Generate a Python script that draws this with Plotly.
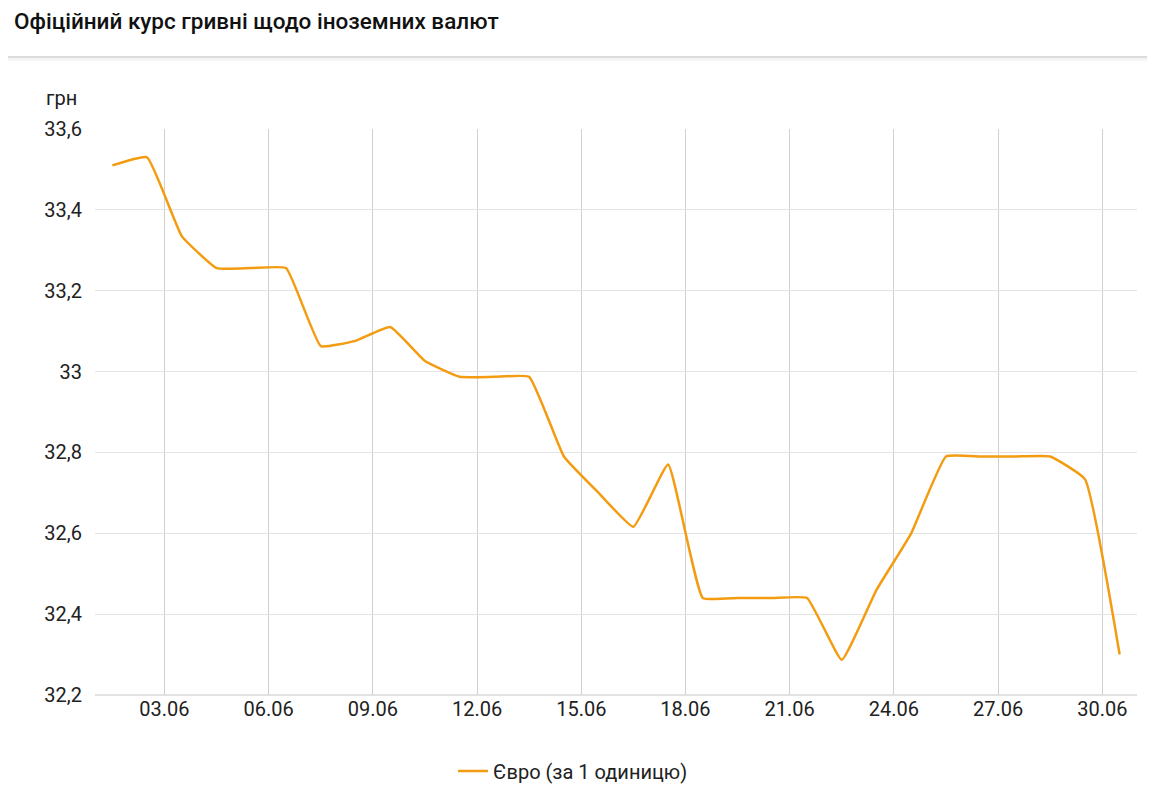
import plotly.graph_objects as go

dates = [f"2021-06-{d:02d} 12:00" for d in range(1, 31)]
euro = [33.51, 33.53, 33.335, 33.256, 33.256, 33.256, 33.063, 33.076, 33.11, 33.026,
        32.987, 32.987, 32.987, 32.79, 32.70, 32.616, 32.77, 32.44, 32.44, 32.44,
        32.44, 32.287, 32.46, 32.60, 32.79, 32.79, 32.79, 32.79, 32.734, 32.30]
series_name = "Євро (за 1 одиницю)"
title_text = "Офіційний курс гривні щодо іноземних валют"
y_ticks = [32.2, 32.4, 32.6, 32.8, 33.0, 33.2, 33.4, 33.6]
y_labels = ["32,2", "32,4", "32,6", "32,8", "33", "33,2", "33,4", "33,6"]
x_ticks = [f"2021-06-{d:02d}" for d in range(3, 31, 3)]
x_labels = [f"{d:02d}.06" for d in range(3, 31, 3)]

FONT = "Roboto, Arial, sans-serif"
TXT = "#212121"
FS = 20

W, H = 1155, 789
OFF = 8  # page body margin
ml, mr, mt, mb = 95 - OFF, 18 + OFF, 129 - OFF, 94 + OFF
pw, ph = W - ml - mr, H - mt - mb


def py(y):  # page pixel y -> paper fraction
    return (H - mb - (y - OFF)) / ph


def px(x):
    return (x - OFF - ml) / pw


fig = go.Figure()
fig.add_trace(go.Scatter(
    x=dates, y=euro, mode="lines", name=series_name,
    line=dict(color="#f39c12", width=2.5, shape="spline", smoothing=0.35),
))

fig.update_layout(
    width=W, height=H,
    margin=dict(l=ml, r=mr, t=mt, b=mb),
    paper_bgcolor="white", plot_bgcolor="white",
    font=dict(family=FONT, size=FS, color=TXT),
    title=dict(text=title_text, x=(14 - OFF) / W, xanchor="left", y=1 - (21 - OFF) / H, yanchor="middle",
               font=dict(family=FONT, size=22.5, color="#111111", weight=500)),
    showlegend=True,
    legend=dict(orientation="h", xref="container", yref="container", x=(573 - OFF) / W, xanchor="center",
                y=1 - (771 - OFF) / H, yanchor="middle", font=dict(size=FS, color=TXT)),
    xaxis=dict(type="date", range=["2021-06-01", "2021-07-01"], tickvals=x_ticks, ticktext=x_labels,
               showgrid=True, gridcolor="#d0d0d0", gridwidth=1, zeroline=False,
               showline=False, ticks="", tickfont=dict(size=FS, color=TXT)),
    yaxis=dict(range=[32.2, 33.6], tickvals=y_ticks, ticktext=y_labels,
               showgrid=True, gridcolor="#e3e3e3", gridwidth=1, zeroline=False,
               showline=False, ticks="", ticklabelstandoff=12, tickfont=dict(size=FS, color=TXT)),
    hovermode="x",
)

fig.add_shape(type="line", xref="paper", yref="paper", x0=0, x1=1, y0=0, y1=0,
              line=dict(color="#dadada", width=1.5))

fig.add_shape(type="line", xref="paper", yref="paper", x0=-0.2, x1=1.2,
              y0=py(57), y1=py(57), line=dict(color="#dcdcdc", width=2))
for i, c in enumerate(["#e8e8e8", "#f2f2f2", "#f9f9f9"]):
    fig.add_shape(type="line", xref="paper", yref="paper", x0=-0.2, x1=1.2,
                  y0=py(59 + i), y1=py(59 + i), line=dict(color=c, width=1))

fig.add_annotation(text="грн", xref="paper", yref="paper", x=px(44), xanchor="left",
                   y=py(98), yanchor="middle", showarrow=False,
                   font=dict(family=FONT, size=FS, color=TXT))

fig.write_html("out.html")
